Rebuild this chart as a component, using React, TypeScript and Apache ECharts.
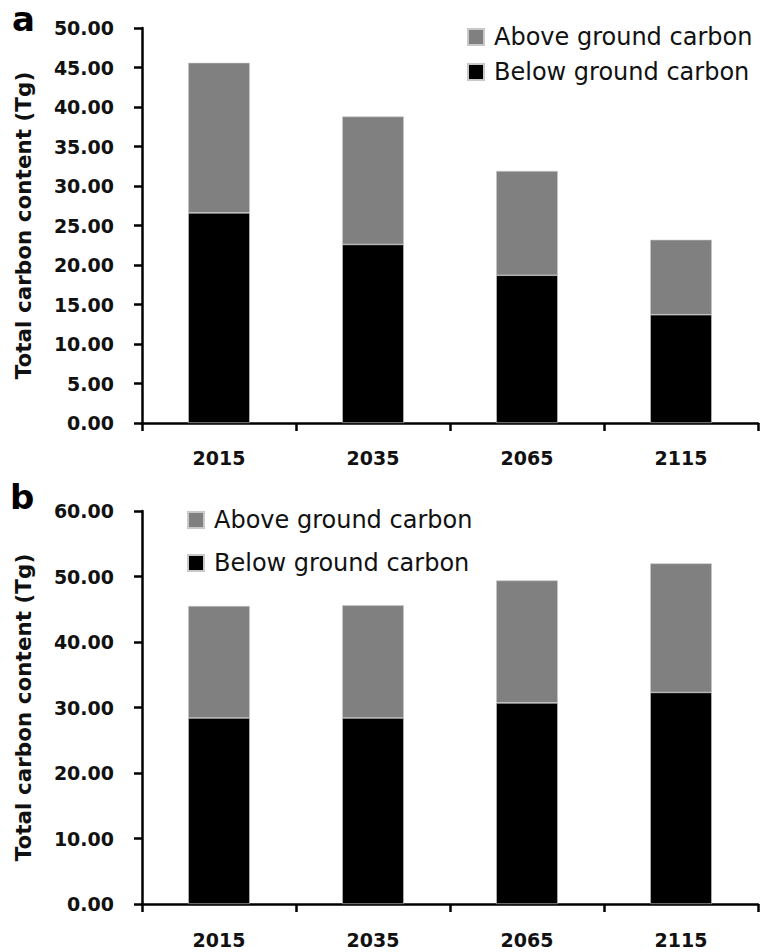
import React, { useEffect, useRef } from "react";
import * as echarts from "echarts";

const years = ["2015", "2035", "2065", "2115"];
const seriesNames = ["Above ground carbon", "Below ground carbon"];
const belowA = [26.6, 22.6, 18.7, 13.7];
const aboveA = [19.0, 16.2, 13.2, 9.5];
const belowB = [28.4, 28.4, 30.7, 32.3];
const aboveB = [17.1, 17.2, 18.7, 19.7];
const yAxisA = { min: 0, max: 50, interval: 5 };
const yAxisB = { min: 0, max: 60, interval: 10 };
const yName = "Total carbon content (Tg)";
const panelLabels = ["a", "b"];

const BOLD = "DejaVu Sans";

export default function App() {
  const ref = useRef<HTMLDivElement>(null);
  useEffect(() => {
    if (!ref.current) return;
    const chart = echarts.init(ref.current, null, { renderer: "svg" });
    const axisLine = { show: true, lineStyle: { color: "#000", width: 2.5 } };
    const axisTick = { show: true, length: 8, inside: false, lineStyle: { color: "#000", width: 2.5 } };
    const mkX = (gi: number, margin: number) => ({
      type: "category",
      gridIndex: gi,
      data: years,
      axisLine,
      axisTick,
      axisLabel: { fontFamily: BOLD, fontWeight: "bold", fontSize: 19, color: "#111", margin },
      splitLine: { show: false },
    });
    const mkY = (gi: number, cfg: any) => ({
      type: "value",
      gridIndex: gi,
      min: cfg.min,
      max: cfg.max,
      interval: cfg.interval,
      axisLine,
      axisTick,
      splitLine: { show: false },
      axisLabel: {
        fontFamily: BOLD,
        fontWeight: "bold",
        fontSize: 19,
        color: "#111",
        margin: 28,
        formatter: (v: number) => v.toFixed(2),
      },
      name: yName,
      nameLocation: "middle",
      nameRotate: 90,
      nameGap: 108,
      nameTextStyle: { fontFamily: BOLD, fontWeight: "bold", fontSize: 21.5, color: "#111" },
    });
    const mkLegend = (left: number, top: number, gap: number) => ({
      data: seriesNames,
      orient: "vertical",
      left,
      top,
      padding: 0,
      itemWidth: 16,
      itemHeight: 16,
      itemGap: gap,
      icon: "rect",
      textStyle: { fontFamily: "DejaVu Sans", fontSize: 24, color: "#111", padding: [0, 0, 0, 5] },
    });
    const bar = (name: string, data: number[], gi: number, color: string) => ({
      type: "bar",
      name,
      data,
      xAxisIndex: gi,
      yAxisIndex: gi,
      stack: "s" + gi,
      barWidth: "40%",
      itemStyle: { color, borderColor: "#c8c8c8", borderWidth: 0.6 },
    });
    chart.setOption({
      animation: false,
      backgroundColor: "#fff",
      grid: [
        { left: 142, top: 28, width: 616, height: 395 },
        { left: 142, top: 511, width: 616, height: 393 },
      ],
      legend: [mkLegend(467, 25, 11), mkLegend(187, 508, 19)],
      xAxis: [mkX(0, 25), mkX(1, 26)],
      yAxis: [mkY(0, yAxisA), mkY(1, yAxisB)],
      series: [
        bar(seriesNames[1], belowA, 0, "#000000"),
        bar(seriesNames[0], aboveA, 0, "#808080"),
        bar(seriesNames[1], belowB, 1, "#000000"),
        bar(seriesNames[0], aboveB, 1, "#808080"),
      ],
      graphic: [
        { type: "text", left: 12, top: 2, style: { text: panelLabels[0], fontFamily: BOLD, fontWeight: "bold", fontSize: 34, fill: "#000" } },
        { type: "text", left: 10, top: 480, style: { text: panelLabels[1], fontFamily: BOLD, fontWeight: "bold", fontSize: 34, fill: "#000" } },
      ],
    });
    return () => chart.dispose();
  }, []);
  return <div ref={ref} style={{ position: "fixed", left: 0, top: 0, width: 761, height: 952 }} />;
}
